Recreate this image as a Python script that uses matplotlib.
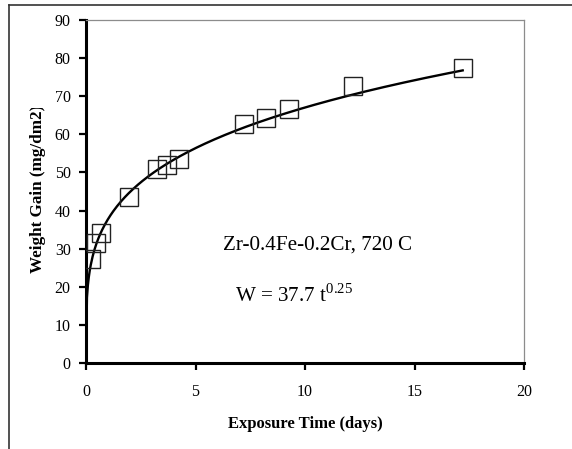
import numpy as np
import matplotlib
matplotlib.use("Agg")
import matplotlib.pyplot as plt
from matplotlib.lines import Line2D
from matplotlib.transforms import Bbox

plt.rcParams['font.family'] = ['Liberation Serif', 'DejaVu Serif']
plt.rcParams['mathtext.fontset'] = 'custom'
plt.rcParams['mathtext.rm'] = 'Liberation Serif'

# measured weight gain (mg/dm2) vs exposure time (days)
days = [0.21, 0.44, 0.70, 1.96, 3.23, 3.71, 4.25, 7.21, 8.22, 9.26, 12.2, 17.2]
gain = [27.3, 31.6, 34.2, 43.6, 50.9, 52.0, 53.5, 62.6, 64.4, 66.7, 72.7, 77.5]

# fitted power law W = k t^n
fit_k = 37.7
fit_n = 0.25
fit_tmax = 17.2

x_ticks = [0, 5, 10, 15, 20]
y_ticks = [0, 10, 20, 30, 40, 50, 60, 70, 80, 90]

fig = plt.figure(figsize=(5.72, 4.49), dpi=100)
ax = fig.add_axes([86/572, 86/449, 438/572, 343/449])

t = np.linspace(0, fit_tmax, 400)
ax.plot(t, fit_k * t**fit_n, color='black', lw=1.7, zorder=3)
ax.plot(days, gain, linestyle='none', marker='s', ms=13.4, mfc='none',
        mec='#222222', mew=1.0, zorder=4)

ax.set_xlim(0, 20)
ax.set_ylim(0, 90)
ax.set_xticks(x_ticks)
ax.set_yticks(y_ticks)
ax.tick_params(direction='out', length=5, width=1.6, labelsize=11.5, pad=6)
ax.tick_params(axis='x', pad=10)

for s in ['left', 'bottom']:
    ax.spines[s].set_linewidth(2.2)
    ax.spines[s].set_color('black')
for s in ['right', 'top']:
    ax.spines[s].set_linewidth(0.9)
    ax.spines[s].set_color('#8c8c8c')

ax.set_xlabel('Exposure Time (days)', fontsize=12, fontweight='bold', labelpad=12)

# y label, cut off at the top like the original
ylab = fig.text(38/572, 1 - 189/449, 'Weight Gain (mg/dm2)', rotation=90,
                fontsize=12.3, fontweight='bold', ha='center', va='center')
ylab.set_clip_on(True)
ylab.set_clip_box(Bbox([[0, 0], [572, 449 - 108]]))

ax.text(6.26, 31.0, 'Zr-0.4Fe-0.2Cr, 720 C', fontsize=15.2, va='center', ha='left')
ax.text(6.8, 17.8, r'W = 37.7 t$^{0.25}$', fontsize=15.2, va='center', ha='left')

# outer chart frame (only top and left edges visible)
fig.add_artist(Line2D([9/572, 1], [1 - 5/449, 1 - 5/449], transform=fig.transFigure,
                      color='#333333', lw=1.2))
fig.add_artist(Line2D([9/572, 9/572], [0, 1 - 5/449], transform=fig.transFigure,
                      color='#333333', lw=1.2))

fig.savefig('out.png', dpi=100)
